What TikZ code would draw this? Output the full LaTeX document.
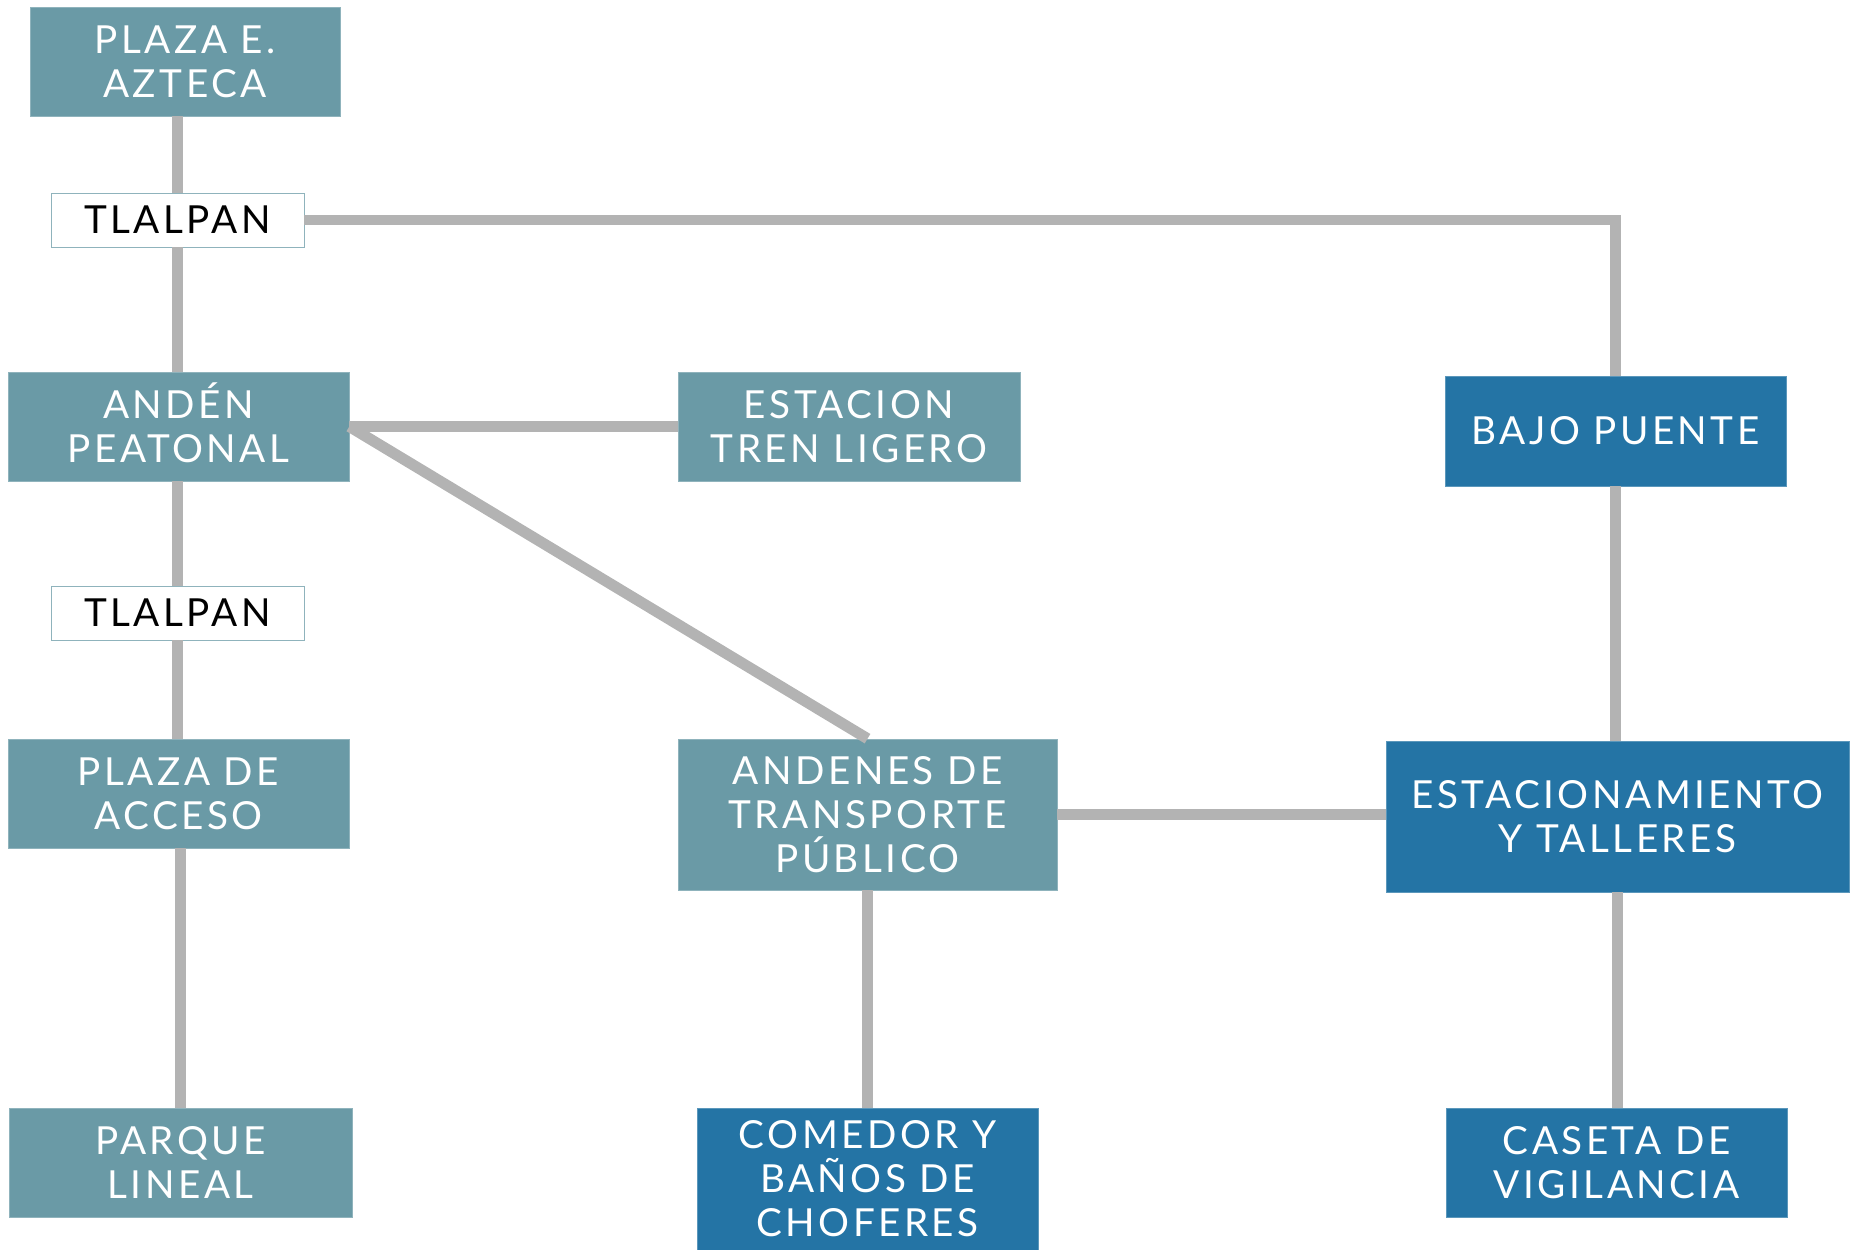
\documentclass[tikz,border=0pt]{standalone}
\usepackage{fontspec}
\setmainfont{Lato}[LetterSpace=9]
\usetikzlibrary{positioning, calc}
\definecolor{tealbox}{HTML}{6A9AA6}
\definecolor{bluebox}{HTML}{2474A5}
\definecolor{linkgray}{HTML}{B3B3B3}
\definecolor{edgeteal}{HTML}{8FB3BC}

\begin{document}
\begin{tikzpicture}[x=0.02cm, y=-0.02cm,
            plaza/.style={rectangle, fill=tealbox, draw=tealbox!75!white, text=white, align=center, inner sep=0pt, font=\fontsize{22}{25}\selectfont},
            servicio/.style={plaza, fill=bluebox, draw=bluebox!75!white},
            calle/.style={rectangle, fill=white, draw=edgeteal, text=black, align=center, inner sep=0pt, font=\fontsize{22}{25}\selectfont},
            liga/.style={draw=linkgray, line width=0.22cm}]

        \useasboundingbox (0,0) rectangle (1856,1250);

        % left column
        \node [plaza, minimum width=6.2cm, minimum height=2.18cm] (aztec) at (185,61.5) {PLAZA E.\\AZTECA};
        \node [calle, minimum width=5.06cm, minimum height=1.08cm] (tlalpan1) at (177.5,220) {TLALPAN};
        \node [plaza, minimum width=6.82cm, minimum height=2.18cm] (anden) at (178.5,426.5) {\raisebox{0pt}[0.72em][0pt]{ANDÉN}\\PEATONAL};
        \node [calle, minimum width=5.06cm, minimum height=1.08cm] (tlalpan2) at (177.5,613) {TLALPAN};
        \node [plaza, minimum width=6.82cm, minimum height=2.18cm] (acceso) at (178.5,793.5) {PLAZA DE\\ACCESO};
        \node [plaza, minimum width=6.86cm, minimum height=2.18cm] (parque) at (180.5,1162.5) {PARQUE\\LINEAL};

        % middle column
        \node [plaza, minimum width=6.84cm, minimum height=2.18cm] (tren) at (849,426.5) {ESTACION\\TREN LIGERO};
        \node [plaza, minimum width=7.58cm, minimum height=3.02cm] (transporte) at (867.5,814.5) {ANDENES DE\\TRANSPORTE\\PÚBLICO};
        \node [servicio, minimum width=6.82cm, minimum height=2.84cm] (choferes) at (867.5,1179) {COMEDOR Y\\BAÑOS DE\\CHOFERES};

        % right column
        \node [servicio, minimum width=6.82cm, minimum height=2.2cm] (puente) at (1615.5,431) {BAJO PUENTE};
        \node [servicio, minimum width=9.26cm, minimum height=3.02cm] (talleres) at (1617.5,816.5) {ESTACIONAMIENTO\\Y TALLERES};
        \node [servicio, minimum width=6.82cm, minimum height=2.18cm] (caseta) at (1616.5,1162.5) {CASETA DE\\VIGILANCIA};

        % Avenida Tlalpan
        \draw[liga] (aztec.south -| tlalpan1.north) -- (tlalpan1.north);
        \draw[liga] (tlalpan1.south) -- (tlalpan1.south |- anden.north);
        \draw[liga] (tlalpan1.east) -| (puente.north);
        \draw[liga] (anden.south -| tlalpan2.north) -- (tlalpan2.north);
        \draw[liga] (tlalpan2.south) -- (tlalpan2.south |- acceso.north);
        \draw[liga] (acceso.south -| parque.north) -- (parque.north);

        % anden peatonal
        \draw[liga] (anden.east) -- (anden.east -| tren.west);
        \draw[liga] (anden.east) -- (transporte.north);

        % transporte
        \draw[liga] (transporte.south) -- (choferes.north);
        \draw[liga] (transporte.east) -- (transporte.east -| talleres.west);
        \draw[liga] (puente.south) -- (puente.south |- talleres.north);
        \draw[liga] (talleres.south) -- (talleres.south |- caseta.north);

    \end{tikzpicture}
\end{document}
